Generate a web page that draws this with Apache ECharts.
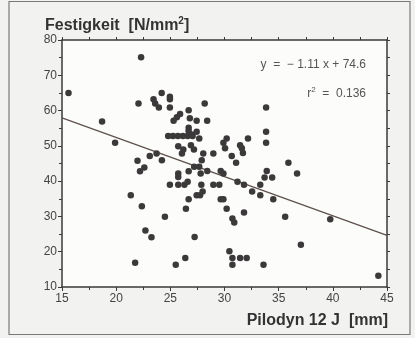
<!DOCTYPE html>
<html>
<head>
<meta charset="utf-8">
<script src="https://cdn.jsdelivr.net/npm/echarts@6/dist/echarts.min.js"></script>
<style>
html,body{margin:0;padding:0;background:#ffffff;}
#c{width:415px;height:338px;}
</style>
</head>
<body>
<div id="c"></div>
<script>
// Pilodyn 12 J [mm]
var pilodyn = [15.6,18.7,19.9,21.35,21.75,21.97,22.2,22.6,22.06,22.3,22.37,22.7,23.26,23.1,23.73,24.22,
  23.45,23.6,23.94,24.2,24.96,24.96,24.96,24.5,24.96,25.3,25.6,25.9,
  24.8,25.24,25.7,26.16,26.6,27.06,
  25.73,26.07,26.2,25.73,25.73,25.73,26.3,26.6,25.5,26.38,26.44,26.69,26.69,26.69,26.8,26.69,26.69,26.97,26.9,27.18,
  27.43,27.43,27.67,27.2,27.67,27.8,27.86,27.43,27.74,27.98,27.24,28.17,28.4,28.04,27.9,28.41,
  28.97,28.97,29.52,29.65,29.9,29.65,29.9,30.2,29.9,30.05,30.2,30.45,30.73,30.73,30.73,30.9,
  30.67,31.07,31.2,31.44,31.6,31.7,31.8,31.8,31.44,32.05,32.17,32.55,33.3,33.3,33.6,33.7,
  33.84,33.84,33.84,33.9,34.4,34.5,35.6,35.9,36.7,37.05,39.76,44.2];
// Festigkeit [N/mm2]
var festigkeit = [65.0,56.9,50.9,36.0,16.9,45.8,42.8,43.9,62.0,75.1,32.9,26.0,24.1,47.1,47.8,45.9,
  63.2,62.0,60.9,65.0,63.9,63.2,60.9,29.9,39.0,57.1,58.1,59.0,
  52.8,52.8,52.8,52.8,52.8,52.8,
  49.9,47.8,49.0,42.2,41.2,39.0,39.0,39.8,16.3,18.2,32.2,34.9,42.8,60.1,57.8,55.1,54.2,53.2,50.2,49.0,
  57.1,54.0,52.1,44.1,44.1,42.2,39.0,36.0,36.0,37.1,24.2,62.0,57.1,47.8,45.9,42.9,
  47.8,39.0,39.0,42.9,42.2,34.9,34.9,32.2,50.9,49.3,52.1,20.1,18.2,16.3,29.4,28.3,
  47.1,45.2,39.8,50.2,49.3,48.0,39.0,31.1,18.2,18.2,52.1,37.1,39.0,36.0,16.3,41.0,
  60.9,54.0,50.9,42.9,41.0,34.9,29.9,45.2,42.2,22.0,29.2,13.2];
var slope = -1.11, intercept = 74.6;
var xRange = [15, 45];
var yRange = [10, 80];
var xTicks = ['15','20','25','30','35','40','45'];

var points = pilodyn.map(function(v,i){return [v, festigkeit[i]];});
var regLine = xRange.map(function(x){return [x, slope*x+intercept];});

var chart = echarts.init(document.getElementById('c'));
var axisCol = '#3a3a3a';
var ff = 'Liberation Sans, Arial, sans-serif';
var lab = {color:'#444', fontSize:12, fontFamily:ff};
chart.setOption({
  backgroundColor:'#f2f2f0',
  animation:false,
  graphic:[
    {type:'rect', shape:{x:9,y:1.5,width:401,height:333}, style:{fill:'none', stroke:'#7a7a7a', lineWidth:1.2}, z:-1}
  ],
  title:[
    {left:40, top:11, text:'{a|Festigkeit  [N/mm}{s|2}{a|]}',
     textStyle:{rich:{a:{fontSize:16,fontWeight:'bold',color:'#333',fontFamily:ff,lineHeight:20},
                      s:{fontSize:10,fontWeight:'bold',color:'#333',fontFamily:ff,verticalAlign:'top',lineHeight:12}}}},
    {right:22, top:308, text:'Pilodyn 12 J  [mm]',
     textStyle:{fontSize:16,fontWeight:'bold',color:'#333',fontFamily:ff}},
    {right:44, top:54, text:'y  =  \u2212 1.11 x + 74.6',
     textStyle:{fontSize:12,fontWeight:'normal',color:'#555',fontFamily:ff}},
    {right:44, top:81, text:'{a|r}{s|2}{a|  =  0.136}',
     textStyle:{fontWeight:'normal',
                rich:{a:{fontSize:12,fontWeight:'normal',color:'#555',fontFamily:ff,lineHeight:16},
                      s:{fontSize:8,fontWeight:'normal',color:'#555',fontFamily:ff,verticalAlign:'top',lineHeight:8}}}}
  ],
  grid:{left:62, right:28, top:40, bottom:51, show:true, backgroundColor:'#fcfcfb', borderWidth:0},
  xAxis:[
    {type:'value', min:xRange[0], max:xRange[1], interval:5, position:'bottom',
     axisLine:{show:true, onZero:false, lineStyle:{color:axisCol,width:1.5}},
     axisTick:{show:true, length:4, lineStyle:{color:axisCol}},
     minorTick:{show:true, splitNumber:2, length:3, lineStyle:{color:axisCol}},
     splitLine:{show:false},
     axisLabel:Object.assign({margin:6, formatter:function(v){return xTicks[Math.round((v-xRange[0])/5)];}}, lab)},
    {type:'value', min:xRange[0], max:xRange[1], interval:5, position:'top',
     axisLine:{show:true, onZero:false, lineStyle:{color:axisCol,width:1.5}},
     axisTick:{show:true, length:3, lineStyle:{color:axisCol}},
     minorTick:{show:true, splitNumber:2, length:3, lineStyle:{color:axisCol}},
     splitLine:{show:false}, axisLabel:{show:false}}
  ],
  yAxis:[
    {type:'value', min:yRange[0], max:yRange[1], interval:10, position:'left',
     axisLine:{show:true, onZero:false, lineStyle:{color:axisCol,width:1.5}},
     axisTick:{show:true, length:4, lineStyle:{color:axisCol}},
     minorTick:{show:true, splitNumber:2, length:3, lineStyle:{color:axisCol}},
     splitLine:{show:false},
     axisLabel:Object.assign({margin:5}, lab)},
    {type:'value', min:yRange[0], max:yRange[1], interval:10, position:'right',
     axisLine:{show:true, onZero:false, lineStyle:{color:axisCol,width:1.5}},
     axisTick:{show:true, length:3, lineStyle:{color:axisCol}},
     minorTick:{show:true, splitNumber:2, length:3, lineStyle:{color:axisCol}},
     splitLine:{show:false}, axisLabel:{show:false}}
  ],
  series:[
    {type:'line', data:regLine, xAxisIndex:0, yAxisIndex:0, symbol:'none',
     lineStyle:{color:'#5e514d', width:1.3}, z:2},
    {type:'scatter', data:points, xAxisIndex:0, yAxisIndex:0, symbolSize:6.5,
     itemStyle:{color:'#3b3939', opacity:1}, z:3}
  ]
});
</script>
</body>
</html>
